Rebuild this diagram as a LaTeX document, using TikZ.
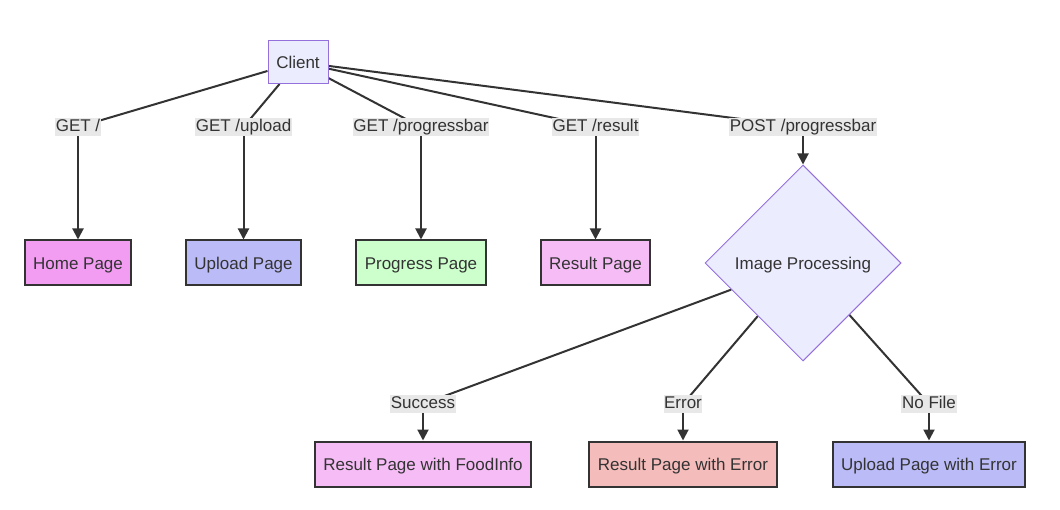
\documentclass[tikz,border=0pt]{standalone}
\usepackage{fontspec}
\setmainfont{Liberation Sans}
\usetikzlibrary{shapes.geometric,arrows.meta,backgrounds}
\definecolor{ink}{HTML}{333333}
\definecolor{lblbg}{HTML}{E8E8E8}
\definecolor{clientfill}{HTML}{ECECFF}
\definecolor{clientdraw}{HTML}{9370DB}
\definecolor{homefill}{HTML}{F29DF2}
\definecolor{uploadfill}{HTML}{BBBBF8}
\definecolor{progressfill}{HTML}{CCFFCC}
\definecolor{resultfill}{HTML}{F5BCF6}
\definecolor{errorfill}{HTML}{F4BCBA}
\begin{document}
\begin{tikzpicture}[x=1pt,y=-1pt,
  font=\fontsize{17}{20}\selectfont, text=ink,
  txt/.style={text height=14.5pt,text depth=2pt},
  page/.style={txt,draw=ink,line width=2pt,minimum height=45pt,inner xsep=8.5pt,inner ysep=0pt},
  lbl/.style={fill=lblbg,inner sep=0.6pt,text height=12.5pt,text depth=4pt},
  edge/.style={draw=ink,line width=2pt},
  arr/.style={edge,-{Triangle[length=11pt,width=11pt]}}]
\useasboundingbox (0,0) rectangle (1060,510);

% main nodes
\node[txt,draw=clientdraw,fill=clientfill,line width=1pt,minimum width=60pt,minimum height=43pt,inner sep=0pt] (client) at (298,62) {Client};
\node[page,fill=homefill] (home) at (78,263) {Home Page};
\node[page,fill=uploadfill] (upload) at (243.5,263) {Upload Page};
\node[page,fill=progressfill] (progress) at (421,263) {Progress Page};
\node[page,fill=resultfill] (result) at (595.5,263) {Result Page};
\node[txt,diamond,aspect=1,draw=clientdraw,fill=clientfill,line width=1pt,minimum width=196pt,minimum height=196pt,inner sep=0pt] (proc) at (803,263) {Image Processing};
\node[page,fill=resultfill] (food) at (423,464) {Result Page with FoodInfo};
\node[page,fill=errorfill] (rerr) at (683,464) {Result Page with Error};
\node[page,fill=uploadfill] (uerr) at (929,464) {Upload Page with Error};

% edge labels
\node[lbl] (l1) at (78,127) {GET /};
\node[lbl] (l2) at (243.5,127) {GET /upload};
\node[lbl] (l3) at (421,127) {GET /progressbar};
\node[lbl] (l4) at (595.5,127) {GET /result};
\node[lbl] (l5) at (803,127) {POST /progressbar};
\node[lbl] (l6) at (423,404) {Success};
\node[lbl] (l7) at (683,404) {Error};
\node[lbl] (l8) at (929,404) {No File};

\begin{scope}[on background layer]
\draw[edge] (client) -- (l1.center);
\draw[edge] (client) -- (l2.center);
\draw[edge] (client) -- (l3.center);
\draw[edge] (client) -- (l4.center);
\draw[edge] (client) -- (l5.center);
\draw[edge] (proc) -- (l6.center);
\draw[edge] (proc) -- (l7.center);
\draw[edge] (proc) -- (l8.center);
\end{scope}
\draw[arr] (l1) -- (home);
\draw[arr] (l2) -- (upload);
\draw[arr] (l3) -- (progress);
\draw[arr] (l4) -- (result);
\draw[arr] (l5) -- (proc);
\draw[arr] (l6) -- (food);
\draw[arr] (l7) -- (rerr);
\draw[arr] (l8) -- (uerr);
\end{tikzpicture}
\end{document}
